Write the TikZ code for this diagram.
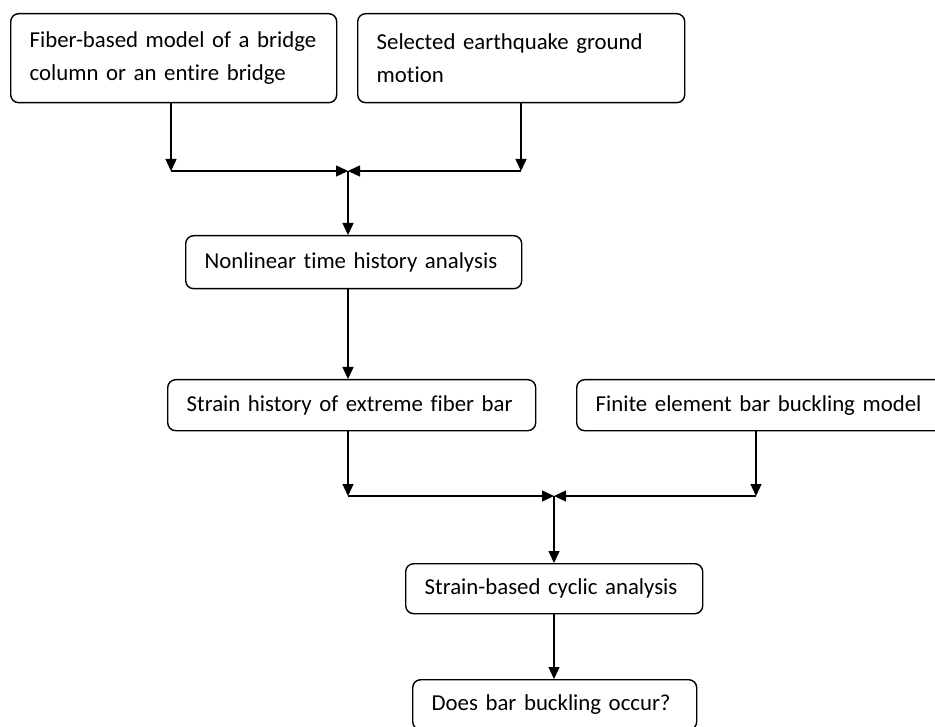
\documentclass[tikz,border=0pt]{standalone}
\usepackage{fontspec}
\setmainfont{Carlito}[Ligatures={NoCommon}]
\usepackage{tikz}
\usetikzlibrary{arrows.meta,positioning,calc}

\begin{document}
\begin{tikzpicture}[
    x=1pt, y=-1pt,
    box/.style={rectangle, draw, rounded corners=8pt, anchor=north west, align=left, inner xsep=19pt, inner ysep=0pt, font=\fontsize{22.8}{33}\selectfont},
    >={Triangle[length=12pt,width=11pt]}, line width=1.4pt
]
    \useasboundingbox (0,0) rectangle (935,727);

    \node[box, text width=288pt, minimum height=89pt] (fiber) at (10,13) {Fiber-based model of a bridge\\column or an entire bridge};
    \node[box, text width=289pt, minimum height=89pt] (motion) at (357,13) {Selected earthquake ground\\motion};
    \node[box, text width=298pt, minimum height=53pt] (nonlin) at (185,235) {Nonlinear time history analysis};
    \node[box, text width=330pt, minimum height=51pt] (strain) at (167,379) {Strain history of extreme fiber bar};
    \node[box, text width=334pt, minimum height=51pt] (fem) at (576,379) {Finite element bar buckling model};
    \node[box, text width=259pt, minimum height=50pt] (cyclic) at (405,563) {Strain-based cyclic analysis};
    \node[box, text width=246pt, minimum height=50pt] (buckle) at (412,679) {Does bar buckling occur?};

    % junctions
    \coordinate (j1) at (348,171);
    \coordinate (a1) at (171,171);
    \coordinate (b1) at (521,171);
    \coordinate (j2) at (554,496);
    \coordinate (a2) at (348,496);
    \coordinate (b2) at (756,496);

    \draw[->] (fiber.south -| a1) -- (a1);
    \draw[->] (a1) -- (j1);
    \draw[->] (motion.south -| b1) -- (b1);
    \draw[->] (b1) -- (j1);
    \draw[->] (j1) -- (nonlin.north -| j1);
    \draw[->] (nonlin.south -| j1) -- (strain.north -| j1);

    \draw[->] (strain.south -| a2) -- (a2);
    \draw[->] (a2) -- (j2);
    \draw[->] (fem.south -| b2) -- (b2);
    \draw[->] (b2) -- (j2);
    \draw[->] (j2) -- (cyclic.north -| j2);
    \draw[->] (cyclic.south -| j2) -- (buckle.north -| j2);
\end{tikzpicture}
\end{document}
